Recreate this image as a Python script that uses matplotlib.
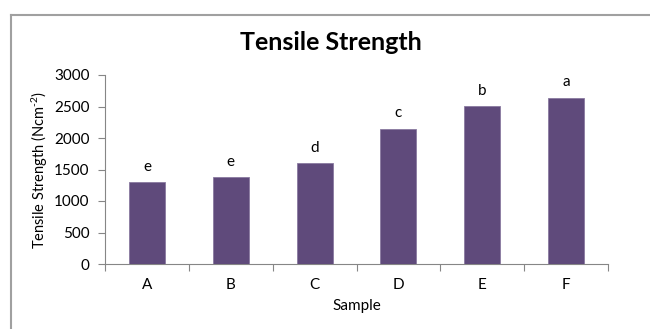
import matplotlib
matplotlib.use("Agg")
import matplotlib.pyplot as plt
from matplotlib.lines import Line2D
import numpy as np

samples = ["A", "B", "C", "D", "E", "F"]
strength = [1300, 1375, 1600, 2150, 2510, 2640]
letters = ["e", "e", "d", "c", "b", "a"]
yticks = [0, 500, 1000, 1500, 2000, 2500, 3000]

plt.rcParams['font.family'] = ['Lato', 'DejaVu Sans']
plt.rcParams['mathtext.fontset'] = 'custom'
plt.rcParams['mathtext.rm'] = 'Lato'
plt.rcParams['mathtext.default'] = 'regular'

fig = plt.figure(figsize=(6.5, 3.29), dpi=100)
ax = fig.add_axes([105/650, 1-264/329, (608-105)/650, (264-75)/329])

x = np.arange(len(samples))
ax.bar(x, strength, width=0.43, color="#5f4a7b", edgecolor="#8a7aa0", linewidth=0.6, zorder=3)
for xi, v, l in zip(x, strength, letters):
    ax.annotate(l, (xi, v), xytext=(0, 6), textcoords="offset points",
                ha="center", va="bottom", fontsize=11, color="black")

ax.set_xlim(-0.5, len(samples) - 0.5)
ax.set_ylim(0, 3000)
ax.set_yticks(yticks)
ax.set_yticklabels([str(t) for t in yticks], fontsize=11)
ax.set_xticks(x)
ax.set_xticklabels(samples, fontsize=11)
ax.set_xticks(np.arange(-0.5, len(samples)), minor=True)
ax.tick_params(axis='x', which='major', length=0, pad=10)
ax.tick_params(axis='x', which='minor', length=5, color="#868686", width=0.8)
ax.tick_params(axis='y', length=5, color="#868686", width=0.8, pad=6)

for s in ["top", "right"]:
    ax.spines[s].set_visible(False)
for s in ["left", "bottom"]:
    ax.spines[s].set_color("#868686")
    ax.spines[s].set_linewidth(0.8)

ax.set_xlabel("Sample", fontsize=11, labelpad=5)
ax.set_ylabel(r"Tensile Strength (Ncm$^{\text{-}2}$)", fontsize=10.5)
ax.yaxis.set_label_coords((50 - 105) / (608 - 105), 0.5)

fig.text(331/650, 1 - 43/329, "Tensile Strength", ha="center", va="center",
         fontsize=18, fontweight="bold")

fig.add_artist(Line2D([11/650, 1], [1 - 14.5/329, 1 - 14.5/329], transform=fig.transFigure,
                      color="#a0a0a0", linewidth=1.5))
fig.add_artist(Line2D([11/650, 11/650], [1 - 14.5/329, 0], transform=fig.transFigure,
                      color="#a0a0a0", linewidth=1.5))

fig.savefig("out.png", dpi=100)
